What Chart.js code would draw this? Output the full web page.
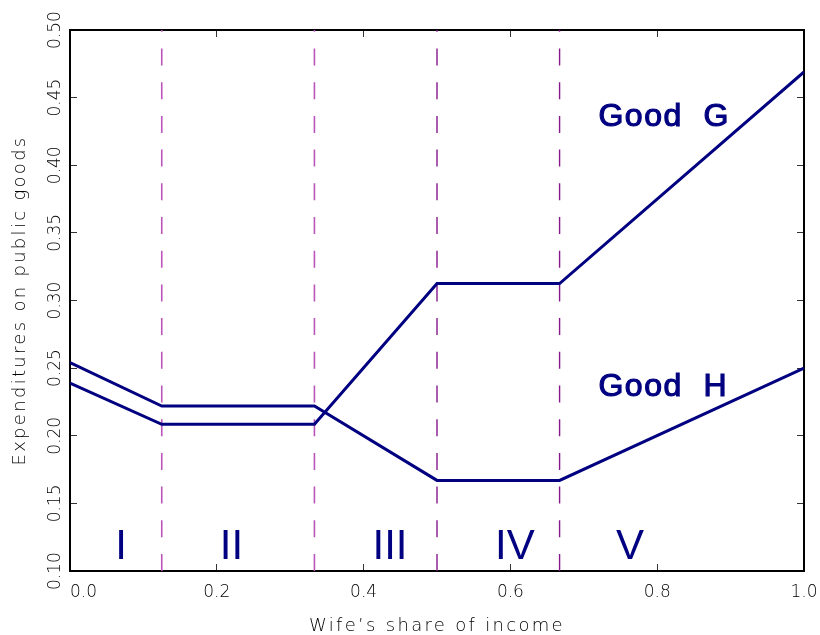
<!DOCTYPE html>
<html>
<head>
<meta charset="utf-8">
<script src="https://cdn.jsdelivr.net/npm/chart.js@4.4.1/dist/chart.umd.min.js"></script>
<style>
  html, body { margin: 0; padding: 0; background: #fff; }
  #wrap { width: 820px; height: 635px; position: relative; }
</style>
</head>
<body>
<div id="wrap"><canvas id="chart"></canvas></div>
<script>
// ================= Data =================
const xShare = [0, 0.125, 0.333, 0.5, 0.667, 1.0];
const goodG  = [0.239, 0.2085, 0.2085, 0.3125, 0.3125, 0.469];
const goodH  = [0.254, 0.222, 0.222, 0.167, 0.167, 0.25];

// regime boundaries (dashed lines) and their roman labels
const regimeBounds = [0.125, 0.333, 0.5, 0.667];
const regimeNames  = ['I', 'II', 'III', 'IV', 'V'];
const regimeLabelX = [0.0695, 0.22, 0.436, 0.606, 0.763];
const regimeLabelY = 0.1087;

const goodNames  = ['Good  G', 'Good  H'];
const goodLabelX = [0.72, 0.72];
const goodLabelY = [0.429, 0.2294];

const xTickVals = [0.0, 0.2, 0.4, 0.6, 0.8, 1.0];
const yTickVals = [0.10, 0.15, 0.20, 0.25, 0.30, 0.35, 0.40, 0.45, 0.50];

const NAVY = '#000080';
const TXT = '#000';
const FONT = "'DejaVu Sans', sans-serif";
const boundColors = ['#bb55bb', '#bb55bb', '#86188c', '#86188c'];
const boundWidths = [1.6, 1.6, 1.4, 1.4];

const yMin = yTickVals[0], yMax = yTickVals[yTickVals.length - 1];

// ================= Helpers =================
const pts = (xs, ys) => xs.map((x, i) => ({ x, y: ys[i] }));

function setTicks(vals) {
  return scale => { scale.ticks = vals.map(v => ({ value: v })); };
}

// fixed box sizes so the frame lands where it is in the picture
function fixSize(w, h) {
  return s => {
    if (w != null) s.width = w;
    if (h != null) s.height = h;
    s.paddingLeft = s.paddingRight = s.paddingTop = s.paddingBottom = 0;
  };
}

// axis titles in the picture are widely letter-spaced
const spacedTitles = {
  id: 'spacedTitles',
  beforeDraw(chart) {
    ['x', 'y'].forEach(id => {
      const s = chart.scales[id];
      if (!s || s._spaced) return;
      const orig = s.drawTitle;
      s.drawTitle = function () {
        this.ctx.save();
        this.ctx.letterSpacing = '2.3px';
        orig.call(this);
        this.ctx.restore();
      };
      s._spaced = true;
    });
  }
};

const textLabels = {
  id: 'textLabels',
  afterDatasetsDraw(chart) {
    const { ctx, scales: { x, y } } = chart;
    ctx.save();
    ctx.fillStyle = NAVY;
    ctx.strokeStyle = NAVY;
    ctx.textBaseline = 'alphabetic';

    ctx.font = "32px 'Liberation Sans', Arial, sans-serif";
    ctx.letterSpacing = '1.5px';
    ctx.textAlign = 'left';
    ctx.lineWidth = 1.2;
    goodNames.forEach((t, i) => {
      const px = x.getPixelForValue(goodLabelX[i]), py = y.getPixelForValue(goodLabelY[i]);
      ctx.fillText(t, px, py);
      ctx.strokeText(t, px, py);
    });

    ctx.font = "42px 'Liberation Sans', Arial, sans-serif";
    ctx.letterSpacing = '0px';
    ctx.textAlign = 'center';
    regimeNames.forEach((t, i) => {
      ctx.fillText(t, x.getPixelForValue(regimeLabelX[i]), y.getPixelForValue(regimeLabelY));
    });
    ctx.restore();
  }
};

// ================= Chart =================
const datasets = [
  { label: 'Good G', data: pts(xShare, goodG), borderColor: NAVY, borderWidth: 3 },
  { label: 'Good H', data: pts(xShare, goodH), borderColor: NAVY, borderWidth: 3 },
  ...regimeBounds.map((b, i) => ({
    label: 'bound' + i,
    data: [{ x: b, y: yMin }, { x: b, y: yMax }],
    borderColor: boundColors[i],
    borderWidth: boundWidths[i],
    borderDash: [17, 16.7]
  }))
];
datasets.forEach(d => { d.pointRadius = 0; d.tension = 0; d.fill = false; });

const tickGrid = { drawOnChartArea: false, drawTicks: true, tickLength: -7, color: '#333', lineWidth: 1 };
const frame = { color: '#000', width: 2 };

new Chart(document.getElementById('chart'), {
  type: 'line',
  data: { datasets },
  options: {
    responsive: true,
    maintainAspectRatio: false,
    animation: false,
    layout: { padding: 0 },
    plugins: { legend: { display: false }, tooltip: { enabled: false } },
    scales: {
      x: {
        type: 'linear', position: 'bottom', min: 0, max: 1,
        afterBuildTicks: setTicks(xTickVals),
        afterFit: fixSize(null, 64),
        grid: tickGrid, border: frame,
        ticks: {
          color: TXT, padding: 18, maxRotation: 0, autoSkip: false,
          font: { family: FONT, size: 17, weight: '200' },
          // first label sits inside the frame in the original
          callback: v => v === 0 ? '     0.0' : v.toFixed(1)
        },
        title: {
          display: true, text: 'Wife\u2019s share of income', color: TXT,
          font: { family: FONT, size: 18, weight: '200' },
          padding: { top: 0, bottom: -2.6 }
        }
      },
      x2: {
        type: 'linear', position: 'top', min: 0, max: 1,
        afterBuildTicks: setTicks(xTickVals),
        afterFit: fixSize(null, 30),
        grid: tickGrid, border: frame,
        ticks: { display: false }
      },
      y: {
        type: 'linear', position: 'left', min: yMin, max: yMax,
        afterBuildTicks: setTicks(yTickVals),
        afterFit: fixSize(70, null),
        grid: tickGrid, border: frame,
        ticks: {
          color: TXT, padding: 2, minRotation: 90, maxRotation: 90,
          crossAlign: 'center', autoSkip: false,
          font: { family: FONT, size: 17, weight: '200' },
          callback: v => v.toFixed(2)
        },
        title: {
          display: true, text: 'Expenditures on public goods', color: TXT,
          font: { family: FONT, size: 18, weight: '200' },
          padding: { top: 10, bottom: 0 }
        }
      },
      y2: {
        type: 'linear', position: 'right', min: yMin, max: yMax,
        afterBuildTicks: setTicks(yTickVals),
        afterFit: fixSize(16, null),
        grid: tickGrid, border: frame,
        ticks: { display: false }
      }
    }
  },
  plugins: [spacedTitles, textLabels]
});
</script>
</body>
</html>
